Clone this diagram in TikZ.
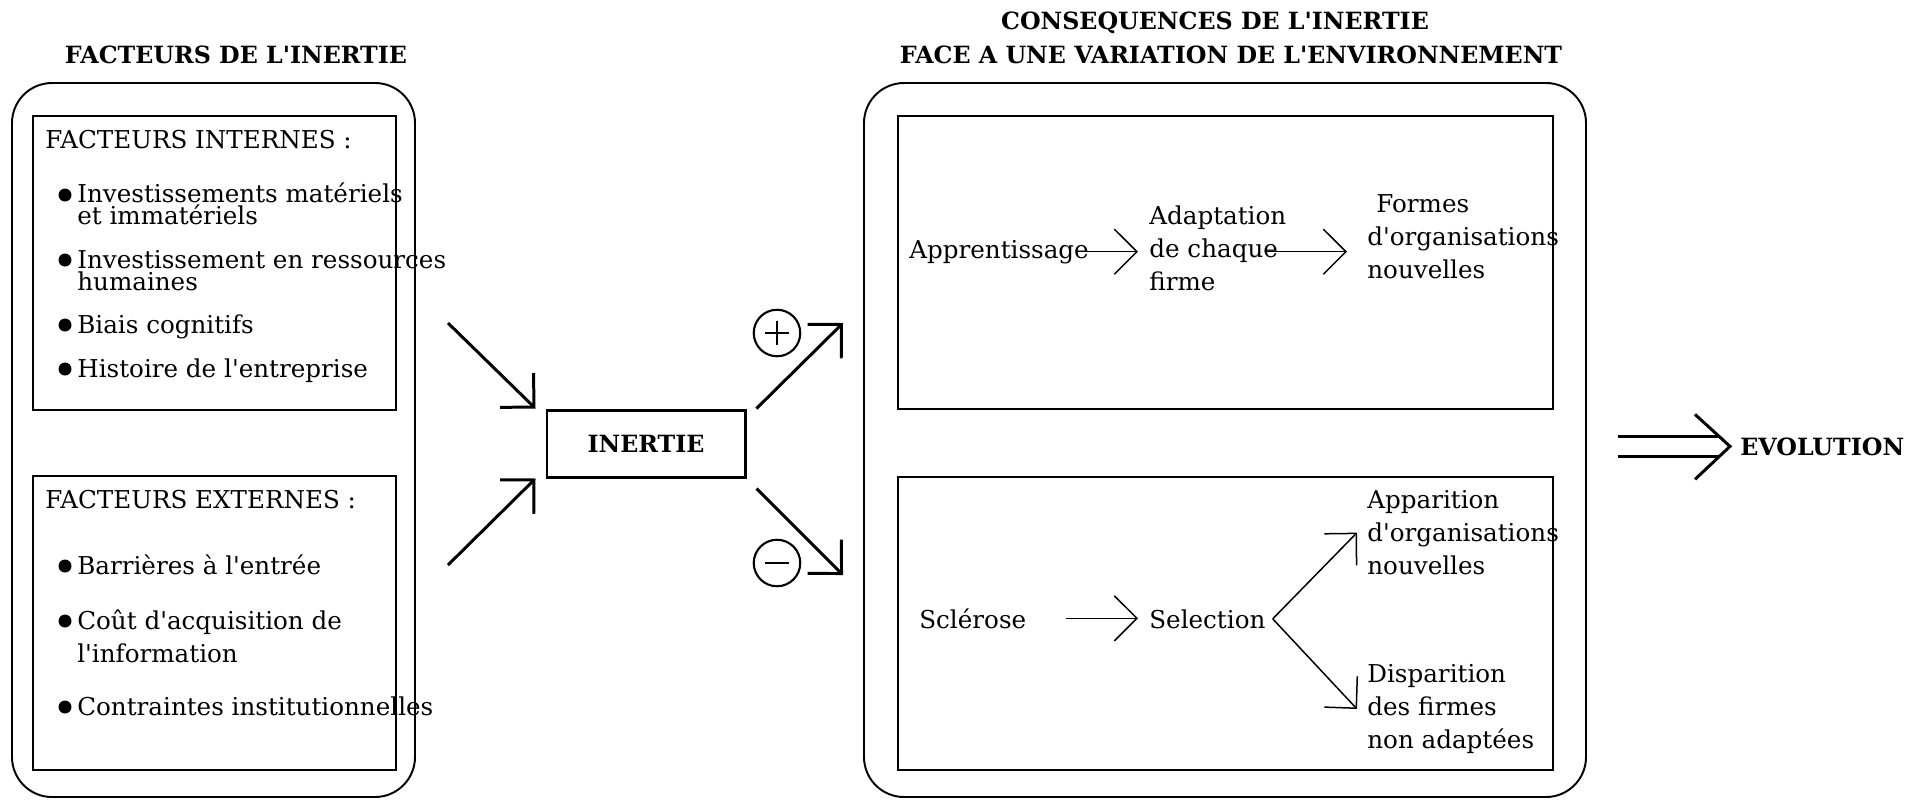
\documentclass[tikz,border=0pt]{standalone}
\usepackage{fontspec}
\setmainfont{DejaVu Serif}[Ligatures=TeXOff]
\usetikzlibrary{arrows.meta,positioning}

\tikzset{
  cadre/.style={draw, line width=1.1pt, rounded corners=8mm},
  boite/.style={draw, line width=1.1pt},
  texte/.style={inner sep=0pt, anchor=base west, align=left, font=\fontsize{14}{18.5}\selectfont},
  titre/.style={inner sep=0pt, anchor=base, align=center, font=\fontsize{13.5}{18.8}\selectfont\bfseries},
  puce/.style={fill=black},
  fleche/.style={line width=1.7pt, -{Straight Barb[length=13.7pt,width=27.3pt]}},
  petitefleche/.style={line width=0.85pt, -{Straight Barb[length=12.9pt,width=25.7pt]}},
  signe/.style={circle, draw, line width=1.2pt, minimum size=9.3mm, inner sep=0pt},
}

\begin{document}
\begin{tikzpicture}[x=0.2mm, y=-0.2mm]
  \useasboundingbox (0,0) rectangle (1923,800);
  % Titles (multi-line nodes sit on their last baseline)
  \node[titre] (titreG) at (236,63) {FACTEURS DE L'INERTIE};
  \node[titre] (titreD) at (1231,63) {CONSEQUENCES DE L'INERTIE\hspace*{6.4mm}\\FACE A UNE VARIATION DE L'ENVIRONNEMENT};

  % Left frame: factors
  \draw[cadre] (12,83) rectangle (415,797);
  \draw[boite] (33,116) rectangle (396,410);
  \draw[boite] (33,476) rectangle (396,770);
  \node[texte] (internes) at (45,148) {FACTEURS INTERNES :};
  \foreach \y/\b/\txt [count=\i] in {
      203/224/{Investissements matériels\\[-6.5pt]et immatériels},
      268/290/{Investissement en ressources\\[-6.5pt]humaines},
      333/333/{Biais cognitifs},
      377/377/{Histoire de l'entreprise}} {
    \fill[puce] (65,\y-8) circle (6.5);
    \node[texte] (int\i) at (77,\b) {\txt};
  }
  \node[texte] (externes) at (45,508) {FACTEURS EXTERNES :};
  \foreach \y/\b/\txt [count=\i] in {
      574/574/{Barrières à l'entrée},
      629/662/{Coût d'acquisition de\\l'information},
      715/715/{Contraintes institutionnelles}} {
    \fill[puce] (65,\y-8) circle (6.5);
    \node[texte] (ext\i) at (77,\b) {\txt};
  }

  % Inertia and its arrows
  \node[draw, line width=1.7pt, minimum width=39.6mm, minimum height=13.4mm,
        font=\fontsize{13.5}{16}\selectfont\bfseries] (inertie) at (646,443.5) {INERTIE};
  \coordinate (in1) at (448,323);
  \coordinate (in2) at (448,565);
  \coordinate (out1) at (843,323);
  \coordinate (out2) at (843,575);
  \draw[fleche] (in1) -- ([xshift=-2mm]inertie.north west);
  \draw[fleche] (in2) -- ([xshift=-2mm]inertie.south west);
  \draw[fleche] ([xshift=2mm]inertie.north east) -- (out1);
  \draw[fleche] ([xshift=2mm,yshift=-2mm]inertie.south east) -- (out2);
  \node[signe] (plus) at (777,333) {};
  \draw[line width=1.5pt] (plus.center) ++(-12,0) -- ++(24,0) (plus.center) ++(0,-12) -- ++(0,24);
  \node[signe] (moins) at (777,563) {};
  \draw[line width=1.5pt] (moins.center) ++(-12,0) -- ++(24,0);

  % Right frame: consequences
  \draw[cadre] (864,83) rectangle (1586,797);
  \draw[boite] (898,116) rectangle (1553,409);
  \draw[boite] (898,477) rectangle (1553,770);
  \node[texte] (appr) at (909,258) {Apprentissage};
  \node[texte] (adapt) at (1149,290) {Adaptation\\de chaque\\firme};
  \node[texte] (formes) at (1367,278) {\hspace*{1.8mm}Formes\\d'organisations\\nouvelles};
  \draw[petitefleche, shorten <=-2.2mm, shorten >=2.2mm] (appr.east) -- (appr.east -| adapt.west);
  \draw[petitefleche, shorten <=-4.4mm, shorten >=4mm] (appr.east -| adapt.east) -- (appr.east -| formes.west);
  \node[texte] (scl) at (919,628) {Sclérose};
  \node[texte] (sel) at (1149,628) {Selection};
  \node[texte] (appar) at (1367,574) {Apparition\\d'organisations\\nouvelles};
  \node[texte] (dispar) at (1367,748) {Disparition\\des firmes\\non adaptées};
  \draw[petitefleche, shorten <=7.8mm, shorten >=2.2mm] (scl.east) -- (scl.east -| sel.west);
  \coordinate (fourche) at ([xshift=1.4mm]sel.east);
  \draw[petitefleche] (fourche) -- ([xshift=-2mm]appar.west);
  \draw[petitefleche] (fourche) -- ([xshift=-2mm]dispar.west);

  % Evolution
  \node[titre, anchor=base west] (evol) at (1740,455) {EVOLUTION};
  \coordinate (depart) at ([xshift=-24.4mm]evol.west);
  \coordinate (pointe) at ([xshift=-2mm]evol.west);
  \draw[line width=1.7pt] ([yshift=2mm]depart) -- ([xshift=-2.2mm,yshift=2mm]pointe)
                          ([yshift=-2mm]depart) -- ([xshift=-2.2mm,yshift=-2mm]pointe);
  \draw[line width=1.7pt] (pointe) ++(-35,-32) -- (pointe) -- ++(-35,33);
\end{tikzpicture}
\end{document}
